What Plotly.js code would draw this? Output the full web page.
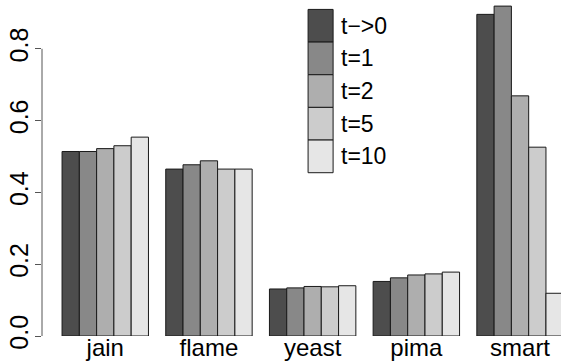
<!DOCTYPE html>
<html>
<head>
<meta charset="utf-8">
<script src="https://cdn.plot.ly/plotly-3.0.1.min.js"></script>
<style>html,body{margin:0;padding:0;background:#fff;}#chart{width:561px;height:363px;}</style>
</head>
<body>
<div id="chart"></div>
<script>
const categories = ["jain", "flame", "yeast", "pima", "smart"];
const seriesNames = ["t\u2212>0", "t=1", "t=2", "t=5", "t=10"];
const seriesColors = ["#4d4d4d", "#888888", "#aeaeae", "#cccccc", "#e6e6e6"];
const values_t0  = [0.514, 0.465, 0.131, 0.152, 0.896];
const values_t1  = [0.514, 0.477, 0.134, 0.162, 0.919];
const values_t2  = [0.522, 0.488, 0.138, 0.170, 0.669];
const values_t5  = [0.530, 0.465, 0.137, 0.173, 0.526];
const values_t10 = [0.554, 0.465, 0.140, 0.178, 0.119];
const yTicks = [0, 0.2, 0.4, 0.6, 0.8];
const yTickLabels = ["0.0", "0.2", "0.4", "0.6", "0.8"];

const allValues = [values_t0, values_t1, values_t2, values_t5, values_t10];
const FONT = "Liberation Sans, Arial, sans-serif";

const traces = allValues.map((vals, i) => ({
  type: "bar",
  x: categories,
  y: vals,
  name: seriesNames[i],
  marker: {color: seriesColors[i], line: {color: "#1a1a1a", width: 1}},
  showlegend: false,
  hoverinfo: "x+y"
}));

// legend drawn as stacked boxes (paper coords)
const shapes = [];
const annotations = [];
const legX0 = 0.5127, legX1 = 0.5609; // paper x
const legTop = 0.972, boxH = 0.0972;   // paper y
seriesNames.forEach((nm, i) => {
  const y1 = legTop - i * boxH, y0 = y1 - boxH;
  shapes.push({type: "rect", xref: "paper", yref: "paper", x0: legX0, x1: legX1, y0: y0, y1: y1,
    fillcolor: seriesColors[i], line: {color: "#1a1a1a", width: 1}});
  annotations.push({xref: "paper", yref: "paper", x: legX1 + 0.012, y: (y0 + y1) / 2,
    xanchor: "left", yanchor: "middle", text: nm, showarrow: false,
    font: {family: FONT, size: 23, color: "#000"}});
});
// y axis line only spanning tick range
shapes.push({type: "line", xref: "paper", yref: "y", x0: 0, x1: 0,
  y0: yTicks[0], y1: yTicks[yTicks.length - 1], line: {color: "#555", width: 1}});

const layout = {
  width: 561, height: 363,
  margin: {l: 42, r: 0, t: 0, b: 27, pad: 0},
  paper_bgcolor: "#fff", plot_bgcolor: "#fff",
  barmode: "group", bargap: 1/6, bargroupgap: 0,
  font: {family: FONT, size: 23, color: "#000"},
  xaxis: {type: "category", range: [-0.61, 4.395], showline: false, showgrid: false,
    zeroline: false, ticks: "", tickfont: {family: FONT, size: 24}, ticklabelstandoff: -5},
  yaxis: {range: [0, 0.936], tickvals: yTicks, ticktext: yTickLabels, ticks: "outside",
    ticklen: 6, tickcolor: "#555", tickwidth: 1, tickangle: -90, showgrid: false,
    zeroline: false, showline: false, tickfont: {family: FONT, size: 25}, ticklabelstandoff: -3},
  shapes: shapes,
  annotations: annotations
};

Plotly.newPlot("chart", traces, layout, {displayModeBar: false, staticPlot: true});
</script>
</body>
</html>
